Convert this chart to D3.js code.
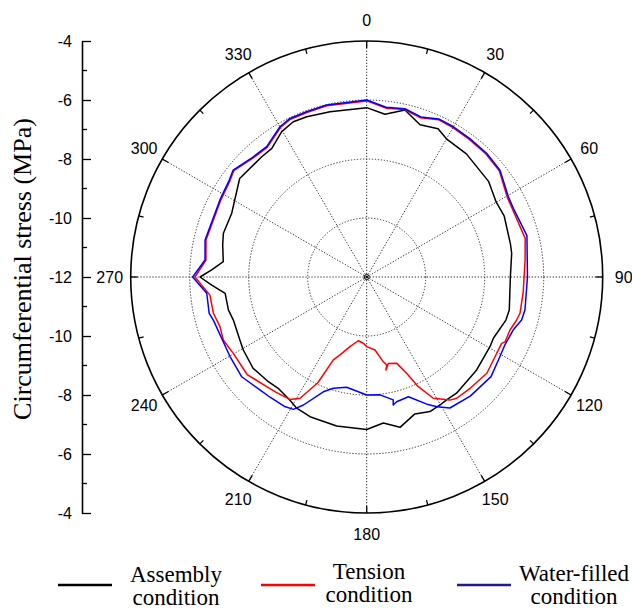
<!DOCTYPE html>
<html>
<head>
<meta charset="utf-8">
<script src="https://cdn.jsdelivr.net/npm/d3@7"></script>
<style>
  body { margin: 0; background: #fff; }
  svg { display: block; }
  .tick text { font-family: "Liberation Sans", Arial, sans-serif; font-size: 16px; }
</style>
</head>
<body>
<svg id="chart" width="632" height="610"></svg>
<script>
// angle in degrees (0 = top, clockwise), stress in MPa
const assemblyAngles = [0, 6.4, 12.9, 19.3, 25.7, 30.3, 39, 52, 60, 66, 77, 80.7, 90, 103, 107.2, 115.8, 119.5, 130.2, 142.3, 147, 150.2, 154.8, 160.6, 167.5, 173.5, 180, 191.4, 202.1, 208.1, 212, 218.5, 223.2, 231.2, 239.4, 243.6, 252.1, 256.6, 263.4, 267, 270, 272.6, 276.1, 282.5, 287, 295.3, 307.8, 318.9, 323.6, 329.7, 334.7, 339.5, 347.5, 360];
const assemblyStress = [-6.26, -6.45, -6.19, -6.53, -6.42, -6.6, -6.63, -6.75, -6.93, -6.9, -7.0, -7.02, -7.13, -7.04, -7.06, -7.23, -7.2, -7.12, -7.02, -7.03, -7.0, -6.96, -7.08, -6.78, -7.02, -6.83, -6.85, -6.89, -6.96, -7.08, -7.18, -7.13, -7.06, -7.14, -7.2, -7.25, -7.18, -7.17, -6.74, -6.35, -6.74, -7.11, -7.0, -6.92, -6.94, -6.55, -6.59, -6.58, -6.29, -6.18, -6.2, -6.26, -6.26];

const tensionAngles = [0, 6.5, 12.8, 18.7, 24.5, 30, 36.7, 44.1, 51.3, 60.4, 64.9, 76.3, 83.9, 95.4, 103.3, 106.3, 110.3, 115.1, 116.2, 120.4, 128.7, 137.1, 143.4, 145.9, 151.2, 154.8, 157.4, 160.8, 166, 168.3, 167.2, 168.9, 173.5, 180, 182.9, 187.5, 193.5, 198.9, 201.9, 204.8, 208.8, 212.1, 218.1, 222.4, 230.8, 240.2, 246.3, 251.3, 256.7, 263.4, 270, 276, 283, 297.7, 305.2, 308.7, 316.7, 322.5, 330, 334.2, 340, 346.9, 360];
const tensionStress = [-6.03, -6.24, -6.18, -6.3, -6.14, -6.15, -6.18, -6.19, -6.24, -6.52, -6.55, -6.47, -6.6, -6.67, -6.66, -6.72, -6.82, -6.82, -6.9, -6.89, -6.78, -6.85, -6.88, -6.96, -7.31, -7.89, -8.46, -8.9, -8.98, -8.78, -8.94, -9.07, -9.51, -9.64, -9.75, -9.82, -9.57, -9.21, -8.97, -8.05, -7.31, -7.1, -7.03, -6.97, -6.77, -6.79, -6.69, -6.75, -6.66, -6.65, -6.18, -6.52, -6.41, -6.41, -6.33, -6.23, -6.43, -6.46, -6.15, -6.06, -6.07, -6.04, -6.03];

const waterAngles = [0, 6.5, 12.8, 18.7, 24.5, 30, 36.7, 44.1, 51.3, 60.4, 64.9, 75.5, 90, 101.8, 105.5, 109.9, 116.2, 120.9, 128.7, 139, 147.6, 151.6, 154.3, 160.8, 166.5, 168.3, 167.8, 173.6, 180, 190.3, 196.7, 200.7, 206.3, 209, 212.6, 218.8, 223.4, 231.4, 239.8, 254.3, 257, 264.2, 270, 276, 282.9, 297.7, 305.2, 308.7, 316.7, 322.5, 330, 334.2, 340, 346.9, 360];
const waterStress = [-6.0, -6.21, -6.15, -6.27, -6.11, -6.12, -6.15, -6.16, -6.21, -6.48, -6.51, -6.39, -6.55, -6.52, -6.55, -6.72, -6.78, -6.74, -6.6, -6.65, -6.74, -7.0, -7.2, -7.7, -7.65, -7.57, -7.74, -7.98, -8.0, -8.2, -8.06, -7.84, -7.16, -6.87, -6.8, -6.77, -6.73, -6.58, -6.64, -6.6, -6.52, -6.55, -6.1, -6.49, -6.38, -6.38, -6.3, -6.2, -6.4, -6.43, -6.12, -6.03, -6.04, -6.01, -6.0];

const radialTicks = [-12, -10, -8, -6, -4];
const minorTicks = [-11, -9, -7, -5];
const angleTicks = d3.range(0, 360, 30);

const series = [
  { name: ["Assembly", "condition"], angles: assemblyAngles, values: assemblyStress, color: "#000000", legendColor: "#000000", lx: 58, tx: 176, ty: 582 },
  { name: ["Tension", "condition"], angles: tensionAngles, values: tensionStress, color: "#ff0000", legendColor: "#ff0000", lx: 261, tx: 369, ty: 579 },
  { name: ["Water-filled", "condition"], angles: waterAngles, values: waterStress, color: "#0000ff", legendColor: "#1c1c8c", lx: 457, tx: 574, ty: 581 }
];

const svg = d3.select("#chart");
const cx = 366.7, cy = 277, R = 236;

const r = d3.scaleLinear().domain([-12, -4]).range([0, R]);
const rad = deg => deg * Math.PI / 180;

const polar = svg.append("g").attr("transform", `translate(${cx},${cy})`);

// dotted grid circles
polar.append("g")
  .selectAll("circle")
  .data([-10, -8, -6])
  .join("circle")
  .attr("r", d => r(d))
  .attr("fill", "none")
  .attr("stroke", "#333")
  .attr("stroke-width", 1)
  .attr("stroke-dasharray", "1.3 1.7");

// spokes
polar.append("g")
  .selectAll("line")
  .data(angleTicks)
  .join("line")
  .attr("x1", 0).attr("y1", 0)
  .attr("x2", d => R * Math.sin(rad(d)))
  .attr("y2", d => -R * Math.cos(rad(d)))
  .attr("stroke", "#333")
  .attr("stroke-width", 1)
  .attr("stroke-dasharray", "1.3 1.7");

// outer circle
polar.append("circle")
  .attr("r", R)
  .attr("fill", "none")
  .attr("stroke", "#000")
  .attr("stroke-width", 1.6);

// ticks on the outer circle
polar.append("g")
  .selectAll("line")
  .data(d3.range(0, 360, 15))
  .join("line")
  .attr("x1", d => R * Math.sin(rad(d)))
  .attr("y1", d => -R * Math.cos(rad(d)))
  .attr("x2", d => (R - (d % 30 ? 5 : 7)) * Math.sin(rad(d)))
  .attr("y2", d => -(R - (d % 30 ? 5 : 7)) * Math.cos(rad(d)))
  .attr("stroke", "#000")
  .attr("stroke-width", 1.3);

// angle labels
polar.append("g")
  .selectAll("text")
  .data(angleTicks)
  .join("text")
  .attr("x", d => 257 * Math.sin(rad(d)))
  .attr("y", d => -257 * Math.cos(rad(d)))
  .attr("text-anchor", "middle")
  .attr("dominant-baseline", "central")
  .attr("font-family", "Liberation Sans, Arial, sans-serif")
  .attr("font-size", 16)
  .text(d => d);

// curves
const line = d3.lineRadial()
  .angle(d => rad(d[0]))
  .radius(d => r(d[1]));

polar.append("g")
  .selectAll("path")
  .data(series)
  .join("path")
  .attr("d", d => line(d3.zip(d.angles, d.values)))
  .attr("fill", "none")
  .attr("stroke", d => d.color)
  .attr("stroke-width", 1.5)
  .attr("stroke-linejoin", "round");

// center marker
polar.append("circle").attr("r", 2.5).attr("fill", "none").attr("stroke", "#000").attr("stroke-width", 1);
polar.append("circle").attr("r", 1).attr("fill", "#000");

// radial axis on the left, -4 .. -12 .. -4
const axisX = 82;
const yTop = d3.scaleLinear().domain([-12, -4]).range([cy, cy - R]);
const yBot = d3.scaleLinear().domain([-12, -4]).range([cy, cy + R]);

const axisG = svg.append("g").attr("transform", `translate(${axisX},0)`);

axisG.append("g")
  .call(d3.axisLeft(yTop).tickValues(radialTicks).tickFormat(d3.format("d")).tickSizeInner(-9).tickSizeOuter(0).tickPadding(10));
axisG.append("g")
  .call(d3.axisLeft(yBot).tickValues(radialTicks.slice(1)).tickFormat(d3.format("d")).tickSizeInner(-9).tickSizeOuter(0).tickPadding(10));

axisG.selectAll(".domain").attr("stroke-width", 1.6);
axisG.selectAll(".tick line").attr("stroke-width", 1.3);
axisG.selectAll(".tick text").attr("font-family", "Liberation Sans, Arial, sans-serif").attr("font-size", 16).text(function () { return this.textContent.replace("−", "-"); });

// minor ticks
axisG.append("g")
  .selectAll("line")
  .data(minorTicks.flatMap(v => [yTop(v), yBot(v)]))
  .join("line")
  .attr("x1", 0).attr("x2", 5)
  .attr("y1", d => d).attr("y2", d => d)
  .attr("stroke", "#000")
  .attr("stroke-width", 1.3);

// y label
svg.append("text")
  .attr("transform", `translate(31,269) rotate(-90)`)
  .attr("text-anchor", "middle")
  .attr("font-family", "Liberation Serif, Times New Roman, serif")
  .attr("font-size", 26)
  .text("Circumferential stress (MPa)");

// legend
const legend = svg.append("g")
  .selectAll("g")
  .data(series)
  .join("g");

legend.append("line")
  .attr("x1", d => d.lx).attr("x2", d => d.lx + 54)
  .attr("y1", 585).attr("y2", 585)
  .attr("stroke", d => d.legendColor)
  .attr("stroke-width", 2.5);

legend.append("text")
  .attr("x", d => d.tx)
  .attr("y", d => d.ty)
  .attr("text-anchor", "middle")
  .attr("font-family", "Liberation Serif, Times New Roman, serif")
  .attr("font-size", 23)
  .selectAll("tspan")
  .data(d => d.name.map((t, i) => ({ t, i, x: d.tx })))
  .join("tspan")
  .attr("x", d => d.x)
  .attr("dy", d => d.i ? 23 : 0)
  .text(d => d.t);
</script>
</body>
</html>
